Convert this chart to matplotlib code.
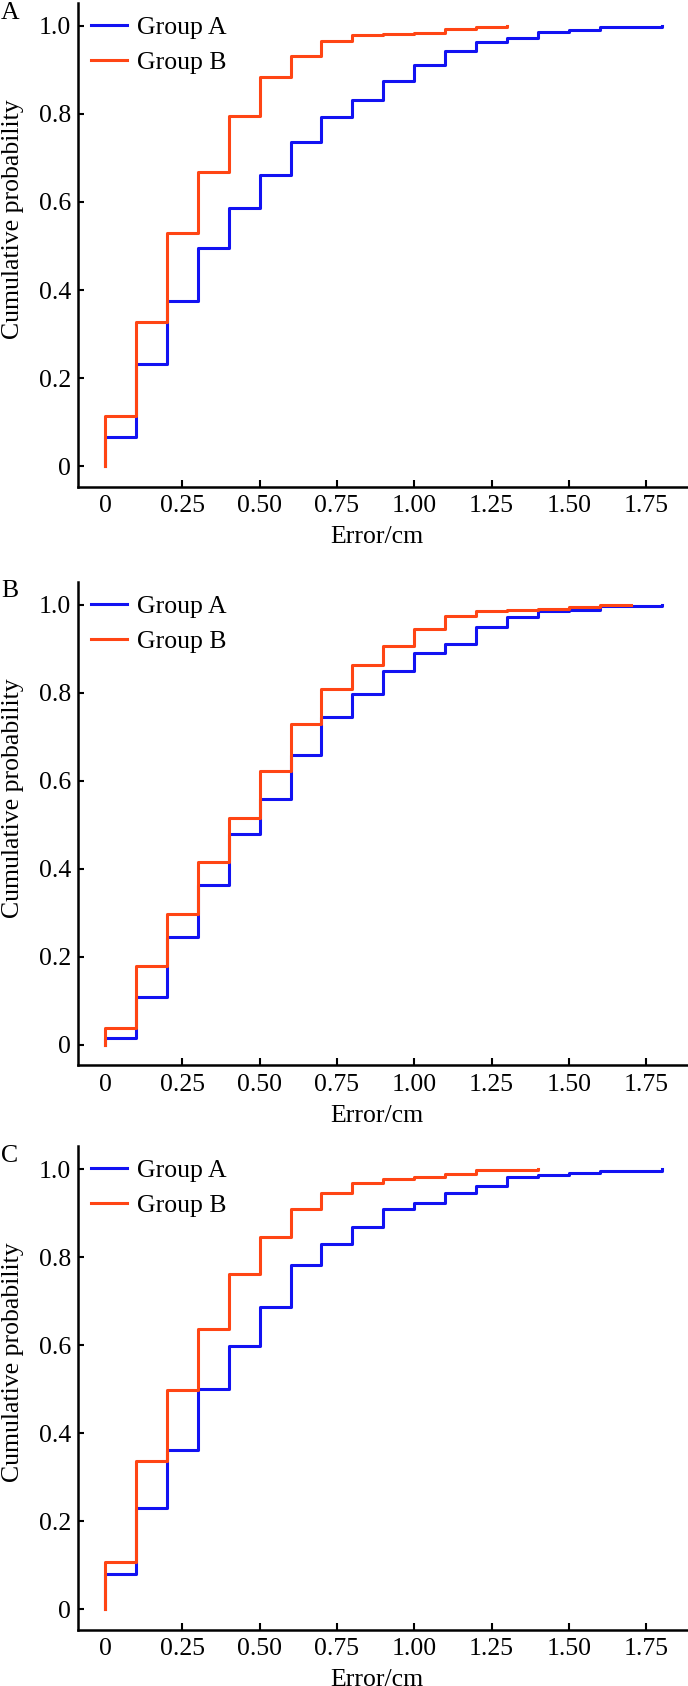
import matplotlib.pyplot as plt

plt.rcParams['font.family'] = ['Liberation Serif', 'DejaVu Serif']

# step positions (Error/cm) where each level starts: 0, 0.1, 0.2, ...
# Panel A
a_groupA = [0.065, 0.231, 0.375, 0.495, 0.586, 0.661, 0.736, 0.792, 0.832, 0.874,
            0.911, 0.943, 0.963, 0.973, 0.986, 0.990, 0.998]
a_groupB = [0.114, 0.328, 0.529, 0.669, 0.796, 0.885, 0.932, 0.965, 0.980, 0.982,
            0.984, 0.992, 0.998]
a_endA, a_endB = 1.8, 1.3

# Panel B
b_groupA = [0.015, 0.109, 0.244, 0.362, 0.479, 0.558, 0.658, 0.744, 0.796, 0.850,
            0.890, 0.910, 0.950, 0.972, 0.985, 0.987, 0.996]
b_groupB = [0.038, 0.179, 0.296, 0.415, 0.515, 0.621, 0.728, 0.809, 0.862, 0.906,
            0.944, 0.975, 0.985, 0.988, 0.990, 0.994, 0.998]
b_endA, b_endB = 1.8, 1.7

# Panel C
c_groupA = [0.081, 0.231, 0.361, 0.501, 0.599, 0.687, 0.782, 0.831, 0.868, 0.909,
            0.923, 0.947, 0.962, 0.983, 0.987, 0.991, 0.995]
c_groupB = [0.108, 0.337, 0.499, 0.637, 0.762, 0.847, 0.909, 0.946, 0.969, 0.977,
            0.982, 0.989, 0.998, 0.999]
c_endA, c_endB = 1.8, 1.4

xticks = [0, 0.25, 0.5, 0.75, 1.0, 1.25, 1.5, 1.75]
xticklabels = ["0", "0.25", "0.50", "0.75", "1.00", "1.25", "1.50", "1.75"]
yticks = [0, 0.2, 0.4, 0.6, 0.8, 1.0]
yticklabels = ["0", "0.2", "0.4", "0.6", "0.8", "1.0"]

panels = [
    ("A", a_groupA, a_groupB, a_endA, a_endB),
    ("B", b_groupA, b_groupB, b_endA, b_endB),
    ("C", c_groupA, c_groupB, c_endA, c_endB),
]

blue = "#1212f2"
orange = "#ff4514"
fs = 18.5

fig = plt.figure(figsize=(6.88, 16.86), dpi=100)
bottoms = [0.7113, 0.3681, 0.0332]

for (letter, gA, gB, endA, endB), bot in zip(panels, bottoms):
    ax = fig.add_axes([0.113, bot, 0.887, 0.2869])
    xA = [0.0] + [i / 10 for i in range(len(gA))] + [endA]
    yA = [0.0] + gA + [1.0]
    xB = [0.0] + [i / 10 for i in range(len(gB))] + [endB]
    yB = [0.0] + gB + [1.0]
    ax.step(xA, yA, where="post", color=blue, lw=2.2, label="Group A")
    ax.step(xB, yB, where="post", color=orange, lw=2.2, label="Group B")

    ax.set_xlim(-0.088, 1.885)
    ax.set_ylim(-0.047, 1.052)
    ax.set_xticks(xticks)
    ax.set_xticklabels(xticklabels)
    ax.set_yticks(yticks)
    ax.set_yticklabels(yticklabels)
    ax.tick_params(direction="in", labelsize=fs, width=1.5)
    ax.tick_params(axis="x", length=5, pad=6)
    ax.tick_params(axis="y", length=4, pad=5)
    ax.xaxis.get_major_ticks()[0].tick1line.set_visible(False)
    for s in ["top", "right"]:
        ax.spines[s].set_visible(False)
    for s in ["left", "bottom"]:
        ax.spines[s].set_linewidth(1.8)

    ax.set_xlabel("Error/cm", fontsize=fs)
    ax.xaxis.set_label_coords(0.49, -0.104)
    ax.xaxis.label.set_va("center")
    ax.set_ylabel("Cumulative probability", fontsize=fs)
    ax.yaxis.set_label_coords(-0.106, 0.553)
    ax.yaxis.label.set_va("center")

    ax.text(-0.111, 0.980, letter, transform=ax.transAxes, fontsize=fs,
            ha="center", va="center")

    ax.legend(loc="upper left", bbox_to_anchor=(0.0, 1.0), frameon=False,
              fontsize=fs, handlelength=1.4, handletextpad=0.4,
              labelspacing=0.48, borderaxespad=0.3, borderpad=0.2)

plt.savefig("out.png", dpi=100)
